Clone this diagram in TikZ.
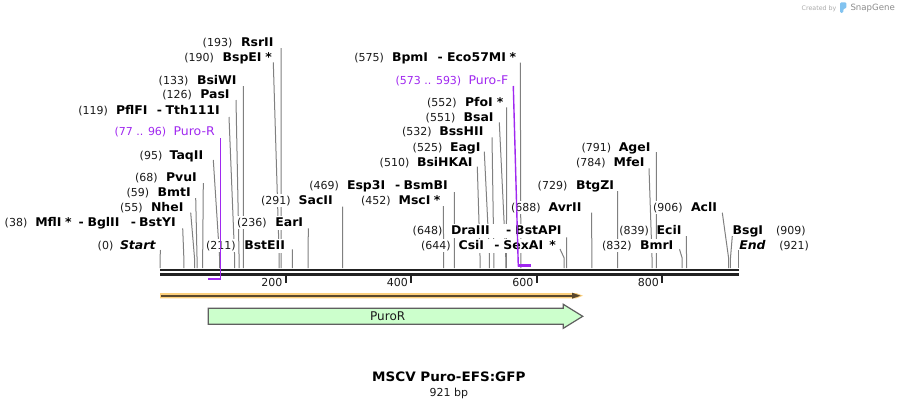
\documentclass[tikz,border=0pt]{standalone}
\usepackage{fontspec}
\setmainfont{DejaVu Sans}
\newfontfamily\lblfont{DejaVu Sans}[FakeStretch=1.04]
\pgfdeclarelayer{bg}
\pgfdeclarelayer{fg}
\pgfsetlayers{bg,main,fg}
\definecolor{sitegray}{RGB}{128,128,128}
\definecolor{numcol}{RGB}{26,26,26}
\definecolor{primer}{RGB}{160,40,240}
\definecolor{bandor}{RGB}{252,208,125}
\definecolor{banddk}{RGB}{90,72,45}
\definecolor{featgreen}{RGB}{204,255,204}
\definecolor{featline}{RGB}{95,95,95}
\definecolor{bbone}{RGB}{34,34,34}
\definecolor{logogray}{RGB}{170,170,170}
\definecolor{logogray2}{RGB}{140,140,140}
\definecolor{logoblue}{RGB}{130,195,240}
\tikzset{
  numtxt/.style={font=\fontsize{11}{13}\selectfont, text=numcol, inner xsep=0pt, inner ysep=0pt,
     text height=10pt, text depth=3pt, fill=white},
  nametxt/.style={font=\lblfont\fontsize{12}{14}\selectfont\bfseries, text=black, inner xsep=0pt, inner ysep=0pt,
     text height=10.5pt, text depth=3.5pt, fill=white},
  prname/.style={font=\lblfont\fontsize{12}{14}\selectfont, text=primer, inner xsep=0pt, inner ysep=0pt,
     text height=10.5pt, text depth=3.5pt, fill=white},
  siteline/.style={draw=sitegray, line width=1pt},
  primerline/.style={draw=primer, line width=1.4pt},
  primerbar/.style={draw=primer, line width=2.4pt},
  bbline/.style={draw=bbone, line width=2.4pt},
  tickmark/.style={draw=bbone, line width=2pt},
  ticktxt/.style={font=\fontsize{11}{13}\selectfont, text=numcol, inner sep=0pt},
}
% left-labelled site: id, ycenter, numEnd, nameStart, number, name, topx, topy, bp
\newcommand\lsite[9]{%
  \coordinate (t#1) at (#7,#8);
  \coordinate (k#1) at ({160+#9*0.627579},258);
  \coordinate (b#1) at ({160+#9*0.627579},268);
  \begin{pgfonlayer}{bg}\draw[siteline] (t#1) -- (k#1) -- (b#1);\end{pgfonlayer}
  \node[numtxt, anchor=base east] (n#1) at ({#3+0.8},{#2+4.3}) {(#5)};
  \node[nametxt, anchor=base west] (m#1) at ({#4-0.9},{#2+4.3}) {#6};
}
% right-labelled site: id, ycenter, nameStart, numStart, number, name, topx, topy, bp
\newcommand\rsite[9]{%
  \coordinate (t#1) at (#7,#8);
  \coordinate (k#1) at ({160+#9*0.627579},258);
  \coordinate (b#1) at ({160+#9*0.627579},268);
  \begin{pgfonlayer}{bg}\draw[siteline] (t#1) -- (k#1) -- (b#1);\end{pgfonlayer}
  \node[nametxt, anchor=base west] (m#1) at ({#3-0.9},{#2+4.3}) {#6};
  \node[numtxt, anchor=base west] (n#1) at ({#4-0.8},{#2+4.3}) {(#5)};
}
\begin{document}
\begin{tikzpicture}[x=1pt,y=-1pt]
\useasboundingbox (0,0) rectangle (899,408);
\begin{pgfonlayer}{bg}
\fill[white] (0,0) rectangle (899,408);
\end{pgfonlayer}

% backbone
\coordinate (bbL1) at (160,270.2); \coordinate (bbR1) at (738.5,270.2);
\coordinate (bbL2) at (160,274.3); \coordinate (bbR2) at (738.5,274.3);
\draw[bbline] (bbL1) -- (bbR1);
\draw[bbline] (bbL2) -- (bbR2);

% ticks
\foreach \v in {200,400,600,800}{
  \coordinate (ta\v) at ({160+\v*0.627579},274);
  \coordinate (tb\v) at ({160+\v*0.627579},283.3);
  \draw[tickmark] (ta\v) -- (tb\v);
  \node[ticktxt, anchor=base east] (tk\v) at ({160+\v*0.627579-3},286.7) {\v};
}

% sites
\lsite{rsr}{42.3}{231.7}{241.7}{193}{RsrII}{281}{48}{193}
\lsite{bspe}{57}{213.3}{223.3}{190}{BspEI\hspace{3.7pt}*}{273.3}{62.3}{190}
\lsite{bsiw}{80}{187.7}{197.7}{133}{BsiWI}{243.3}{86}{133}
\lsite{pas}{94.5}{191.3}{201}{126}{PasI}{236}{100}{126}
\lsite{pfl}{110}{107.3}{116.7}{119}{PflFI\hspace{9.4pt}-\hspace{3.6pt}Tth111I}{229}{117}{119}
\lsite{taq}{155}{161.7}{170.3}{95}{TaqII}{213.3}{160}{95}
\lsite{pvu}{177.3}{157}{166.7}{68}{PvuI}{203.3}{183}{68}
\lsite{bmt}{192.3}{148.6}{158.3}{59}{BmtI}{195.7}{198}{59}
\lsite{nhe}{207.3}{142}{151.7}{55}{NheI}{190.7}{212.7}{55}
\lsite{mfl}{222}{26.7}{36}{38}{MflI\hspace{3.5pt}*\hspace{6.9pt}-\hspace{3.8pt}BglII\hspace{11.4pt}-\hspace{3.1pt}BstYI}{182.7}{228.3}{38}
\lsite{start}{245}{112.7}{120.7}{0}{\itshape Start}{160.5}{250}{0}
\lsite{bste}{245}{235}{245}{211}{BstEII}{292.3}{249.3}{211}
\lsite{ear}{222}{266}{276}{236}{EarI}{308.3}{228.3}{236}
\lsite{sac}{200}{290}{299.3}{291}{SacII}{342.7}{206.7}{291}
\lsite{esp}{184.7}{338.3}{347.7}{469}{Esp3I\hspace{9.9pt}-\hspace{3.4pt}BsmBI}{454.3}{192}{469}
\lsite{msc}{199.7}{390}{399.3}{452}{MscI\hspace{3.4pt}*}{443.3}{206}{452}
\lsite{bsih}{162}{408.7}{417.7}{510}{BsiHKAI}{477.3}{166.7}{510}
\lsite{eag}{146.7}{441.7}{450.7}{525}{EagI}{484.3}{151.7}{525}
\lsite{bssh}{131.5}{431}{440}{532}{BssHII}{492}{137.3}{532}
\lsite{bsa}{116.7}{454.7}{464.3}{551}{BsaI}{499.3}{122.3}{551}
\lsite{pfo}{101.7}{456}{465.7}{552}{PfoI\hspace{4.1pt}*}{506.7}{107.3}{552}
\lsite{bpm}{56.7}{383.3}{392.7}{575}{BpmI\hspace{9.6pt}-\hspace{4.2pt}Eco57MI\hspace{3.6pt}*}{520.3}{62.7}{575}
\lsite{dra}{230}{441.7}{451.7}{648}{DraIII\hspace{16.2pt}-\hspace{4pt}BstAPI}{566.7}{237.3}{648}
\lsite{csi}{245}{450}{459.3}{644}{CsiI\hspace{10.3pt}-\hspace{3.8pt}SexAI\hspace{6.2pt}*}{560}{249}{644}
\lsite{avr}{207}{540}{549.3}{688}{AvrII}{591.7}{212.7}{688}
\lsite{btg}{184.7}{566.7}{576.7}{729}{BtgZI}{617.7}{191}{729}
\lsite{mfe}{162.3}{605}{614.3}{784}{MfeI}{649}{168.3}{784}
\lsite{age}{147}{610.5}{619.5}{791}{AgeI}{656.3}{152}{791}
\lsite{eci}{230}{648.3}{657.3}{839}{EciI}{686.3}{236}{839}
\lsite{bmr}{245}{631}{640.7}{832}{BmrI}{679.5}{249.3}{832}
\lsite{acl}{207}{682}{691.7}{906}{AclI}{722.3}{212.7}{906}
\rsite{bsg}{230}{733.3}{776.7}{909}{BsgI}{732.3}{236}{909}
\rsite{end}{245}{740}{780}{921}{\itshape End}{738}{250}{921}

% primers
\node[numtxt, text=primer, anchor=base east] (npr) at (166.5,135.8) {(77 .. 96)};
\node[prname, anchor=base west] (mpr) at (173.4,135.8) {Puro-R};
\node[numtxt, text=primer, anchor=base east] (npf) at (461.5,84.3) {(573 .. 593)};
\node[prname, anchor=base west] (mpf) at (468.4,84.3) {Puro-F};
\begin{pgfonlayer}{fg}
  \coordinate (prt) at (220.3,138); \coordinate (prb) at (220.3,279.9);
  \coordinate (prc) at (221,278.7); \coordinate (pre) at (208.3,278.7);
  \draw[primerline] (prt) -- (prb);
  \draw[primerbar] (prc) -- (pre);
  \coordinate (pft) at (513.3,86); \coordinate (pfb) at (518.3,266.5);
  \coordinate (pfc) at (517.6,265.3); \coordinate (pfe) at (531,265.3);
  \draw[primerline] (pft) -- (pfb);
  \draw[primerbar] (pfc) -- (pfe);
\end{pgfonlayer}

% orange band
\fill[bandor] (160,293) -- (576,293) -- (583,295.7) -- (576,298.4) -- (160,298.4) -- cycle;
\coordinate (obL) at (161,295.7); \coordinate (obR) at (574,295.7);
\draw[banddk, line width=2pt] (obL) -- (obR);
\fill[banddk] (572,292.7) -- (580.5,295.7) -- (572,298.7) -- cycle;

% PuroR feature
\filldraw[fill=featgreen, draw=featline, line width=1.2pt, line join=miter]
  (208.3,308.3) -- (563.3,308.3) -- (563.3,304.3) -- (582.7,316.3) -- (563.3,328.3)
  -- (563.3,324.3) -- (208.3,324.3) -- cycle;
\node[font=\fontsize{12}{14}\selectfont, text=numcol, inner sep=0pt] (puror) at (387.7,316.3) {PuroR};

% title
\node[font=\lblfont\fontsize{13}{15}\selectfont\bfseries, anchor=base, inner sep=0pt] (title) at (448.8,381) {MSCV Puro-EFS:GFP};
\node[font=\fontsize{11}{13}\selectfont, text=numcol, anchor=base, inner sep=0pt] (bplen) at (448.9,396.5) {921 bp};

% logo
\node[font=\fontsize{6.3}{7}\selectfont, text=logogray, anchor=base west, inner sep=0pt] (cby) at (801.5,10) {Created by};
\fill[logoblue, rounded corners=1.2pt] (840,2.3) -- (846.3,2.3) -- (846.3,8.6) -- (843.3,8.6) -- (843.3,12.8) -- (840,12.8) -- cycle;
\node[font=\fontsize{8.6}{10}\selectfont, text=logogray2, anchor=base west, inner sep=0pt] (sg) at (850.3,10.5) {SnapGene};
\end{tikzpicture}
\end{document}
